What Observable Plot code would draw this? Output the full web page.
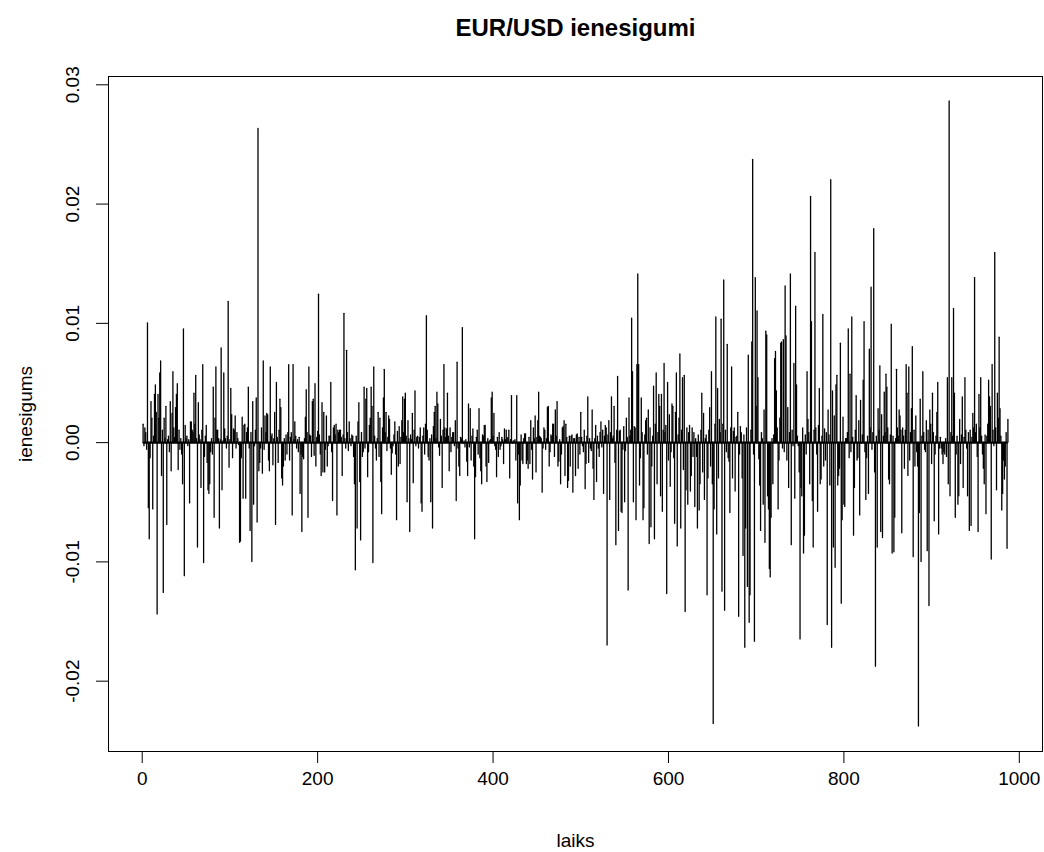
<!DOCTYPE html>
<html>
<head>
<meta charset="utf-8">
<script src="https://cdn.jsdelivr.net/npm/d3@7"></script>
<script src="https://cdn.jsdelivr.net/npm/@observablehq/plot@0.6"></script>
<style>
  html, body { margin: 0; padding: 0; background: #fff; }
  #chart { width: 1044px; height: 852px; }
</style>
</head>
<body>
<div id="chart"></div>
<script>
// EUR/USD daily returns, in units of 1e-4
const returnsE4 = [
  15,-3,12,8,-6,100,-55,-81,-13,34,
  20,-56,5,40,48,25,-144,40,20,58,
  68,-28,10,-126,20,3,30,-69,2,5,
  -8,34,-24,24,59,12,4,29,40,49,
  -23,10,-6,3,-10,-35,95,-112,14,3,
  5,-3,2,-51,17,17,10,8,41,15,
  56,3,-88,33,6,2,-38,10,65,-101,
  -12,5,14,-17,-40,-43,-35,-8,3,-10,
  46,-63,20,63,10,10,3,-72,2,79,
  -40,1,58,11,3,-5,5,118,-21,2,
  45,23,-13,11,10,22,-5,8,3,-2,
  -84,-83,-13,21,-47,14,15,-47,8,12,
  46,-5,-74,8,-100,34,-52,-3,10,37,
  -67,263,-24,-17,-5,12,-26,68,-6,22,
  8,24,23,-15,-24,63,5,7,-19,3,
  25,-69,50,4,-17,10,36,29,-30,-36,
  -20,3,-15,6,-10,8,65,-15,4,8,
  -61,65,2,17,5,-5,2,-8,4,-43,
  -10,-75,-12,-14,3,21,44,8,-63,63,
  6,5,-12,34,36,-11,49,-20,4,9,
  124,6,-10,-28,33,-25,25,-25,-6,22,
  -20,-3,5,5,50,-8,-49,12,14,6,
  15,-61,10,8,10,10,4,-28,6,108,
  3,-5,77,8,-7,17,3,-3,6,5,
  -12,-35,-107,5,-72,17,33,-33,-82,8,
  -12,-8,46,-5,36,45,-29,-8,14,20,
  46,30,-101,63,5,-5,-15,3,25,-12,
  20,-33,-60,12,37,61,8,25,-7,4,
  22,19,-5,-27,-9,-3,6,17,-10,-65,
  9,-20,13,-18,4,18,38,8,36,41,
  5,-50,18,3,-75,6,2,24,-34,10,
  43,-3,4,5,-5,4,12,-51,-58,5,
  12,-10,15,106,10,-12,-15,3,-50,6,
  -72,13,25,30,3,42,32,-4,-11,19,
  5,-38,10,65,12,4,11,41,5,-24,
  12,-8,4,8,8,-3,18,-49,67,-5,
  -20,-28,4,3,96,-1,1,-4,2,-16,
  -28,32,-4,28,-15,5,11,-20,-81,-29,
  4,10,-10,28,-13,-24,-35,6,5,14,
  14,-20,-33,3,-17,1,2,37,42,5,
  24,-3,-6,-29,4,-12,8,-6,-3,4,
  2,-18,11,2,10,4,3,10,-30,2,
  39,-1,1,1,2,-15,39,-51,-10,-65,
  -36,6,-15,-18,3,7,7,-18,-15,-22,
  4,-18,18,-6,-31,12,3,22,-25,4,
  18,42,5,4,3,-42,-5,12,10,-6,
  3,29,30,-20,-8,6,5,15,15,-12,
  27,5,34,-20,-16,2,-35,-10,12,13,
  18,-28,15,4,-38,-32,5,-20,5,6,
  -42,3,3,-28,6,7,-22,4,-10,25,
  4,-3,-8,10,-39,-18,5,38,-17,3,
  -5,-7,27,-22,-48,3,14,-33,5,-5,
  -12,8,17,-4,10,-43,5,14,12,-170,
  6,18,-48,8,38,3,5,30,-17,-86,
  10,55,-74,9,10,-58,-59,-6,13,-50,
  -7,20,4,-124,37,5,10,104,59,-50,
  13,12,-65,65,141,65,-36,-13,37,8,
  -65,-55,6,18,20,-10,27,-85,12,-71,
  -20,5,47,-81,15,58,-35,8,40,30,
  -45,40,-58,10,66,8,14,-127,50,-15,
  23,-37,-8,32,30,-13,-68,25,58,-87,
  6,20,74,-72,10,54,-23,56,-142,-40,
  12,-52,8,14,-41,-28,12,-12,8,-54,
  3,-12,-72,6,-57,-35,10,41,-25,24,
  -48,3,6,-128,-30,10,29,-20,59,-35,
  -236,-56,15,105,-77,45,-30,19,8,103,
  -125,15,136,-141,10,-8,82,-13,-16,-59,
  12,63,-30,9,12,-41,4,5,25,-146,
  -10,13,8,-30,-95,6,-172,-72,12,-121,
  73,-151,-128,10,84,237,-10,-167,138,30,
  110,54,-14,-36,-74,8,3,-52,27,-84,
  93,90,-45,-56,-106,-113,-63,3,-35,6,
  70,76,43,12,-56,-15,20,83,84,-5,
  86,-8,131,89,-15,29,-38,8,141,-86,
  10,-3,66,-47,114,48,5,-3,-25,-165,
  -38,-45,12,-93,-78,6,-10,59,19,8,
  -35,206,101,-49,-88,10,159,12,-10,-58,
  14,45,-35,-31,5,107,-20,11,-15,8,
  -153,27,6,-36,220,-172,43,-88,22,-105,
  48,56,-36,-28,-22,83,-135,-65,21,-52,
  -54,3,3,8,95,-13,57,-8,105,4,
  -78,-38,10,39,-15,-13,18,-61,35,-1,
  6,52,101,-8,-48,-13,5,-43,78,12,
  130,-6,8,179,-25,-188,5,-88,28,10,
  64,-75,23,-80,5,42,8,57,46,12,
  -31,-35,6,99,-93,5,-92,-63,3,61,
  12,5,27,22,10,-76,12,5,-22,10,
  65,41,-28,63,-15,8,28,80,-96,10,
  -20,22,-8,-20,-238,-59,36,-100,5,59,
  8,-6,-8,18,-91,10,-137,27,15,-18,
  41,8,-66,-10,5,25,50,-77,-5,4,
  -5,-10,-18,-8,-10,3,-12,54,-35,286,
  -45,8,54,5,112,41,-63,-10,5,-52,
  -45,19,-18,6,38,-38,4,54,10,-5,
  -45,8,-74,10,-70,4,24,12,138,8,
  15,-12,-75,40,12,54,5,-10,-22,-35,
  6,-60,5,15,52,38,30,-98,65,10,
  -3,159,12,-40,41,20,88,28,5,-57,
  -43,-15,-31,-20,8,-89,19
];

const xTicks = [0, 200, 400, 600, 800, 1000];
const yTicks = [-0.02, -0.01, 0.00, 0.01, 0.02, 0.03];
const titleText = "EUR/USD ienesigumi";
const xLabel = "laiks";
const yLabel = "ienesigums";

// table for the library
const data = returnsE4.map((v, i) => ({t: i + 1, r: v / 10000}));

// R-style 4% padding on both axes
const n = data.length;
const xPad = 0.04 * (n - 1);
const yMin = d3.min(data, d => d.r), yMax = d3.max(data, d => d.r);
const yPad = 0.04 * (yMax - yMin);
const tFirst = d3.min(data, d => d.t), tLast = d3.max(data, d => d.t);

const font = "Liberation Sans, Arial, Helvetica, sans-serif";

const chart = Plot.plot({
  width: 1044,
  height: 852,
  marginTop: 76,
  marginBottom: 101,
  marginLeft: 108,
  marginRight: 2,
  style: {fontFamily: font, fontSize: "19px", color: "#000", background: "#fff"},
  x: {domain: [1 - xPad, n + xPad]},
  y: {domain: [yMin - yPad, yMax + yPad]},
  marks: [
    Plot.ruleX(data, {x: "t", y1: 0, y2: "r", stroke: "#000", strokeWidth: 1.3, strokeLinecap: "round"}),
    Plot.ruleY([0], {x1: tFirst, x2: tLast, stroke: "#000", strokeWidth: 2}),
    Plot.frame({stroke: "#000", strokeWidth: 1}),
    Plot.axisX({ticks: xTicks, tickSize: 12, tickFormat: () => "", label: null, stroke: "#000"}),
    Plot.axisY({ticks: yTicks, tickSize: 12, tickFormat: () => "", label: null, stroke: "#000"}),
    Plot.text(xTicks, {x: d => d, text: d => String(d), frameAnchor: "bottom", lineAnchor: "middle", dy: 27, fontSize: 19, fill: "#000"}),
    Plot.text(yTicks, {y: d => d, text: d => d.toFixed(2), frameAnchor: "left", textAnchor: "middle", lineAnchor: "middle", dx: -36, rotate: -90, fontSize: 19, fill: "#000"}),
    Plot.text([xLabel], {text: d => d, frameAnchor: "bottom", lineAnchor: "middle", dy: 89, fontSize: 19, fill: "#000"}),
    Plot.text([yLabel], {text: d => d, frameAnchor: "left", textAnchor: "middle", lineAnchor: "middle", dx: -83, rotate: -90, fontSize: 19, fill: "#000"}),
    Plot.text([titleText], {text: d => d, frameAnchor: "top", lineAnchor: "middle", dy: -48, fontSize: 24, fontWeight: "bold", fill: "#000"})
  ]
});
document.getElementById("chart").appendChild(chart);
</script>
</body>
</html>
